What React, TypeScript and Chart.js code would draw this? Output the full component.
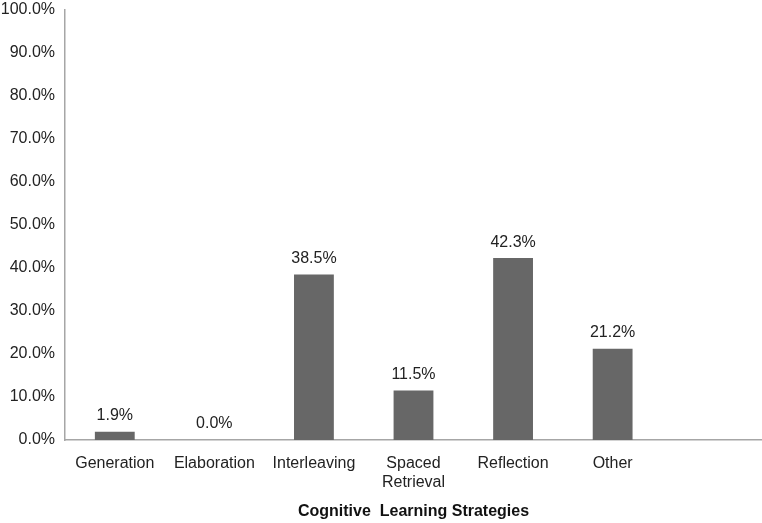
import React, { useEffect, useRef } from "react";
import { Chart, registerables } from "chart.js";

Chart.register(...registerables);

const categories: (string | string[])[] = [
  "Generation",
  "Elaboration",
  "Interleaving",
  ["Spaced", "Retrieval"],
  "Reflection",
  "Other",
  "",
];
const values: (number | null)[] = [1.9, 0.0, 38.5, 11.5, 42.3, 21.2, null];
const yTicks: number[] = [0, 10, 20, 30, 40, 50, 60, 70, 80, 90, 100];
const xTitle = "Cognitive  Learning Strategies";

const FONT = "'Liberation Sans', Arial, sans-serif";

const valueLabels = {
  id: "valueLabels",
  afterDatasetsDraw(chart: any) {
    const ctx = chart.ctx;
    const meta = chart.getDatasetMeta(0);
    ctx.save();
    ctx.font = `16px ${FONT}`;
    ctx.fillStyle = "#222222";
    ctx.textAlign = "center";
    ctx.textBaseline = "bottom";
    meta.data.forEach((bar: any, i: number) => {
      const v = values[i];
      if (v === null || v === undefined) return;
      ctx.fillText(v.toFixed(1) + "%", bar.x, bar.y - 8);
    });
    ctx.restore();
  },
};

export default function App() {
  const ref = useRef<HTMLCanvasElement>(null);
  useEffect(() => {
    if (!ref.current) return;
    const chart = new Chart(ref.current, {
      type: "bar",
      data: {
        labels: categories,
        datasets: [
          {
            data: values,
            backgroundColor: "#676767",
            barPercentage: 0.4,
            categoryPercentage: 1.0,
          },
        ],
      },
      options: {
        animation: false,
        responsive: false,
        maintainAspectRatio: false,
        layout: { padding: 0 },
        plugins: {
          legend: { display: false },
          tooltip: { enabled: false },
        },
        scales: {
          x: {
            grid: { display: false, drawTicks: false },
            border: { display: true, color: "#a6a6a6", width: 1.5 },
            ticks: {
              font: { family: FONT, size: 16 },
              color: "#222222",
              padding: 14,
              maxRotation: 0,
              autoSkip: false,
            },
            title: {
              display: true,
              text: xTitle,
              font: { family: FONT, size: 16, weight: "bold" },
              color: "#111111",
              padding: { top: 0, bottom: 2 },
            },
            afterFit: (scale: any) => {
              scale.height = 83;
            },
          },
          y: {
            min: 0,
            max: 100,
            grid: { display: false, drawTicks: false },
            border: { display: true, color: "#a6a6a6", width: 1.5 },
            afterBuildTicks: (scale: any) => {
              scale.ticks = yTicks.map((v) => ({ value: v }));
            },
            ticks: {
              font: { family: FONT, size: 16 },
              color: "#222222",
              padding: 10,
              callback: (v: any) => Number(v).toFixed(1) + "%",
            },
            afterFit: (scale: any) => {
              scale.width = 65;
              scale.paddingTop = 10;
            },
          },
        },
      },
      plugins: [valueLabels],
    });
    return () => chart.destroy();
  }, []);
  return (
    <div style={{ position: "absolute", left: 0, top: 0, width: 762, height: 523, background: "#fff" }}>
      <canvas ref={ref} width={762} height={523} style={{ width: 762, height: 523 }} />
    </div>
  );
}
